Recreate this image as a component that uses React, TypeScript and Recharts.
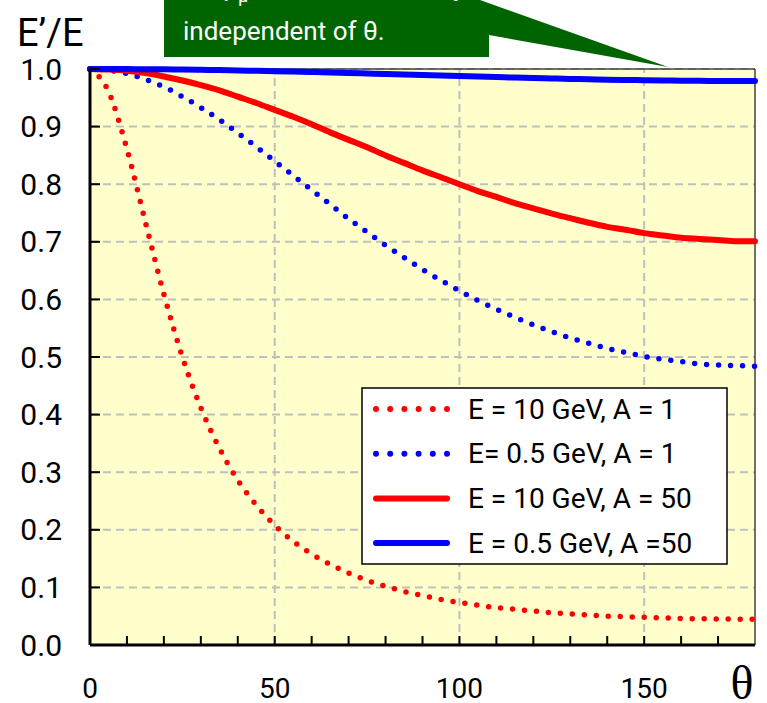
import {
  LineChart,
  Line,
  XAxis,
  YAxis,
  CartesianGrid,
  ReferenceLine,
  Legend,
} from 'recharts'

// scattering angle in degrees
const THETA = [
  0, 5, 10, 15, 20, 25, 30, 35, 40, 45, 50, 55, 60, 65, 70, 75, 80, 85, 90,
  95, 100, 105, 110, 115, 120, 125, 130, 135, 140, 145, 150, 155, 160, 165,
  170, 175, 180,
]

// E'/E
const E10_A1 = [
  1.0, 0.961, 0.861, 0.734, 0.609, 0.5, 0.412, 0.342, 0.286, 0.243, 0.208,
  0.18, 0.158, 0.14, 0.125, 0.112, 0.102, 0.093, 0.086, 0.079, 0.074, 0.069,
  0.065, 0.062, 0.059, 0.056, 0.054, 0.052, 0.05, 0.049, 0.048, 0.047, 0.046,
  0.0455, 0.045, 0.0449, 0.0448,
]
const E05_A1 = [
  1.0, 0.998, 0.992, 0.982, 0.969, 0.952, 0.933, 0.912, 0.889, 0.865, 0.84,
  0.815, 0.79, 0.765, 0.74, 0.717, 0.694, 0.673, 0.652, 0.633, 0.615, 0.598,
  0.583, 0.569, 0.556, 0.544, 0.533, 0.524, 0.515, 0.508, 0.501, 0.496, 0.492,
  0.488, 0.486, 0.485, 0.484,
]
const E10_A50 = [
  1.0, 0.999, 0.997, 0.993, 0.987, 0.98, 0.972, 0.963, 0.952, 0.941, 0.929,
  0.917, 0.904, 0.89, 0.877, 0.864, 0.85, 0.837, 0.824, 0.812, 0.8, 0.788,
  0.778, 0.767, 0.758, 0.749, 0.741, 0.733, 0.726, 0.721, 0.715, 0.711, 0.707,
  0.705, 0.703, 0.701, 0.701,
]
const E05_A50 = [
  1.0, 1.0, 0.9998, 0.9996, 0.9994, 0.999, 0.9986, 0.9981, 0.9975, 0.9969,
  0.9962, 0.9955, 0.9947, 0.9939, 0.993, 0.9922, 0.9913, 0.9904, 0.9895,
  0.9886, 0.9877, 0.9868, 0.9859, 0.9851, 0.9843, 0.9835, 0.9828, 0.9821,
  0.9815, 0.981, 0.9805, 0.9801, 0.9798, 0.9795, 0.9793, 0.9792, 0.9791,
]

const Y_TICKS = [0, 0.1, 0.2, 0.3, 0.4, 0.5, 0.6, 0.7, 0.8, 0.9, 1.0]
const X_TICKS = [
  0, 10, 20, 30, 40, 50, 60, 70, 80, 90, 100, 110, 120, 130, 140, 150, 160,
  170, 180,
]
const X_LABELS = [0, 50, 100, 150]
const X_GRID = [50, 100, 150]

const SERIES = [
  { key: 'e10a1', name: 'E = 10 GeV, A = 1', color: '#FF0000', dotted: true },
  { key: 'e05a1', name: 'E= 0.5 GeV, A = 1', color: '#0000FF', dotted: true },
  { key: 'e10a50', name: 'E = 10 GeV, A = 50', color: '#FF0000', dotted: false },
  { key: 'e05a50', name: 'E = 0.5 GeV, A =50', color: '#0000FF', dotted: false },
]

const data = THETA.map((t, i) => ({
  theta: t,
  e10a1: E10_A1[i],
  e05a1: E05_A1[i],
  e10a50: E10_A50[i],
  e05a50: E05_A50[i],
}))

const FONT = 'Roboto, sans-serif'
const X_MARGIN = 43
const Y_MARGIN = 28

function XTick(props: any) {
  const { x, y, payload } = props
  const v = payload.value
  const axisY = y - X_MARGIN
  return (
    <g>
      {v > 0 && v < 180 && (
        <line x1={x} x2={x} y1={axisY} y2={axisY - 9} stroke="#000" strokeWidth={2} />
      )}
      {X_LABELS.includes(v) && (
        <text
          x={x}
          y={y}
          textAnchor="middle"
          dominantBaseline="central"
          fontFamily={FONT}
          fontSize={28}
          fill="#000"
        >
          {v}
        </text>
      )}
    </g>
  )
}

function YTick(props: any) {
  const { x, y, payload } = props
  const axisX = x + Y_MARGIN
  return (
    <g>
      <line x1={axisX} x2={axisX + 10} y1={y} y2={y} stroke="#000" strokeWidth={2} />
      <text
        x={x}
        y={y}
        textAnchor="end"
        dominantBaseline="central"
        fontFamily={FONT}
        fontSize={30}
        fill="#000"
      >
        {payload.value.toFixed(1)}
      </text>
    </g>
  )
}

function LegendBox() {
  return (
    <svg width={367} height={178} style={{ display: 'block' }}>
      <rect x={1} y={1} width={365} height={176} fill="#fff" stroke="#000" strokeWidth={1.5} />
      {SERIES.map((s, i) => {
        const cy = 22 + i * 44.7
        return (
          <g key={s.key}>
            <line
              x1={15}
              x2={86}
              y1={cy}
              y2={cy}
              stroke={s.color}
              strokeWidth={6}
              strokeLinecap="round"
              strokeDasharray={s.dotted ? '0 14.2' : undefined}
            />
            <text
              x={107}
              y={cy}
              dominantBaseline="central"
              fontFamily={FONT}
              fontSize={28}
              fill="#000"
            >
              {s.name}
            </text>
          </g>
        )
      })}
    </svg>
  )
}

export default function App() {
  return (
    <div style={{ position: 'absolute', left: 0, top: 0, width: 767, height: 703, background: '#fff' }}>
      <LineChart width={767} height={703} data={data} margin={{ top: 69, right: 12, left: 0, bottom: 0 }}>
        <CartesianGrid
          vertical={false}
          fill="#FFFFCC"
          fillOpacity={1}
          stroke="#BFBFBF"
          strokeWidth={2}
          strokeDasharray="8 5"
        />
        {X_GRID.map((g) => (
          <ReferenceLine key={g} x={g} stroke="#BFBFBF" strokeWidth={2} strokeDasharray="8 5" />
        ))}
        <ReferenceLine y={1} stroke="#404040" strokeWidth={1.5} />
        <ReferenceLine x={180} stroke="#404040" strokeWidth={1.5} />
        <XAxis
          dataKey="theta"
          type="number"
          domain={[0, 180]}
          ticks={X_TICKS}
          interval={0}
          height={58}
          tickSize={0}
          tickMargin={X_MARGIN}
          tick={<XTick />}
          axisLine={{ stroke: '#000', strokeWidth: 3 }}
          tickLine={false}
        />
        <YAxis
          type="number"
          domain={[0, 1]}
          ticks={Y_TICKS}
          interval={0}
          width={90}
          tickSize={0}
          tickMargin={Y_MARGIN}
          tick={<YTick />}
          axisLine={{ stroke: '#000', strokeWidth: 3 }}
          tickLine={false}
        />
        <Legend
          layout="horizontal"
          align="center"
          verticalAlign="middle"
          content={() => <LegendBox />}
          wrapperStyle={{ left: 361, top: 387, width: 367, height: 178 }}
        />
        {SERIES.map((s) => (
          <Line
            key={s.key}
            dataKey={s.key}
            name={s.name}
            type="monotone"
            stroke={s.color}
            strokeWidth={s.dotted ? 5.5 : 6}
            strokeLinecap="round"
            strokeDasharray={s.dotted ? '0 12' : undefined}
            dot={false}
            activeDot={false}
            isAnimationActive={false}
          />
        ))}
      </LineChart>
      <svg
        width={767}
        height={703}
        style={{ position: 'absolute', left: 0, top: 0, pointerEvents: 'none' }}
      >
        <polygon points="164,0 480,0 668,67 489,35 489,57 164,57" fill="#006400" />
        <text x={183} y={-4} fontFamily={FONT} fontSize={26} fill="#fff">
          i.e. p<tspan fontSize={18} dy={6}>μ</tspan>
          <tspan dy={-6}> ≪ M, E′ ≈ E, nearly</tspan>
        </text>
        <text x={183} y={40} fontFamily={FONT} fontSize={26} fill="#fff">
          independent of θ.
        </text>
        <text x={17} y={46} fontFamily={FONT} fontSize={38} fill="#000">
          E’/E
        </text>
        <text
          x={742}
          y={699}
          textAnchor="middle"
          fontFamily="'Liberation Serif', serif"
          fontSize={48}
          fill="#000"
        >
          θ
        </text>
      </svg>
    </div>
  )
}
